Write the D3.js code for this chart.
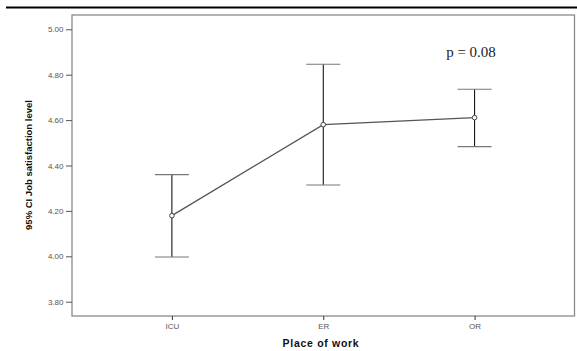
<!DOCTYPE html>
<html><head><meta charset="utf-8">
<script src="https://cdn.jsdelivr.net/npm/d3@7"></script>
<style>body{margin:0;background:#fff}svg{display:block}</style>
</head><body>
<svg id="c" width="577" height="351"></svg>
<script>
const categories = ["ICU", "ER", "OR"];
const means = [4.179, 4.580, 4.611];
const lower = [3.997, 4.314, 4.483];
const upper = [4.360, 4.846, 4.736];
const yTicks = [3.80, 4.00, 4.20, 4.40, 4.60, 4.80, 5.00];
const pLabel = "p = 0.08";
const xTitle = "Place of work";
const yTitle = "95% CI Job satisfaction level";

const svg = d3.select("#c");
const L = 72, R = 574.5, T = 15, B = 316;
const x = d3.scalePoint().domain(categories).range([L, R]).padding(0.66);
const y = d3.scaleLinear().domain([3.737, 5.063]).range([B, T]);

// top rule
svg.append("line").attr("x1", 6).attr("x2", 577).attr("y1", 7.5).attr("y2", 7.5)
  .attr("stroke", "#000").attr("stroke-width", 2.2);

// frame
svg.append("rect").attr("x", L).attr("y", T).attr("width", R - L).attr("height", B - T)
  .attr("fill", "none").attr("stroke", "#8a8a8a").attr("stroke-width", 1.3);

// y axis
const ya = svg.append("g").attr("transform", `translate(${L},0)`)
  .call(d3.axisLeft(y).tickValues(yTicks).tickFormat(d3.format(".2f")).tickSize(6).tickSizeOuter(0));
ya.select(".domain").remove();
ya.selectAll(".tick line").attr("stroke", "#555");
ya.selectAll(".tick text").attr("x", -8.5).attr("fill", "#555")
  .style("font-family", "Arial, 'Liberation Sans', sans-serif").style("font-size", "8px");

// x axis
const xa = svg.append("g").attr("transform", `translate(0,${B})`)
  .call(d3.axisBottom(x).tickSize(4).tickSizeOuter(0));
xa.select(".domain").remove();
xa.selectAll(".tick line").attr("stroke", "#333");
xa.selectAll(".tick text").attr("y", 7).attr("fill", "#555")
  .style("font-family", "Arial, 'Liberation Sans', sans-serif").style("font-size", "8px");

// error bars
const g = svg.append("g");
categories.forEach((c, i) => {
  const cx = x(c);
  g.append("line").attr("x1", cx).attr("x2", cx).attr("y1", y(upper[i])).attr("y2", y(lower[i]))
    .attr("stroke", "#000").attr("stroke-width", 1);
  [upper[i], lower[i]].forEach(v => {
    g.append("line").attr("x1", cx - 17).attr("x2", cx + 17).attr("y1", y(v)).attr("y2", y(v))
      .attr("stroke", "#777").attr("stroke-width", 1.2);
  });
});

// mean line
const line = d3.line().x((d, i) => x(categories[i])).y(d => y(d));
svg.append("path").datum(means).attr("d", line).attr("fill", "none")
  .attr("stroke", "#555").attr("stroke-width", 1.3);

svg.append("g").selectAll("circle").data(means).join("circle")
  .attr("cx", (d, i) => x(categories[i])).attr("cy", d => y(d)).attr("r", 2.3)
  .attr("fill", "#fff").attr("stroke", "#333").attr("stroke-width", 0.9);

// p label
svg.append("text").attr("x", 471).attr("y", 57).attr("text-anchor", "middle")
  .style("font-family", "'Liberation Serif', 'Times New Roman', serif").style("font-size", "15px")
  .attr("fill", "#222").text(pLabel);

// axis titles
svg.append("text").attr("x", 321).attr("y", 347).attr("text-anchor", "middle")
  .style("font-family", "Arial, 'Liberation Sans', sans-serif").style("font-size", "10.5px")
  .style("font-weight", "bold").style("letter-spacing", "0.7px").attr("fill", "#111").text(xTitle);

svg.append("text").attr("transform", "translate(32,165) rotate(-90)").attr("text-anchor", "middle")
  .style("font-family", "Arial, 'Liberation Sans', sans-serif").style("font-size", "9.5px")
  .style("font-weight", "bold").attr("fill", "#111").text(yTitle);
</script>
</body></html>
